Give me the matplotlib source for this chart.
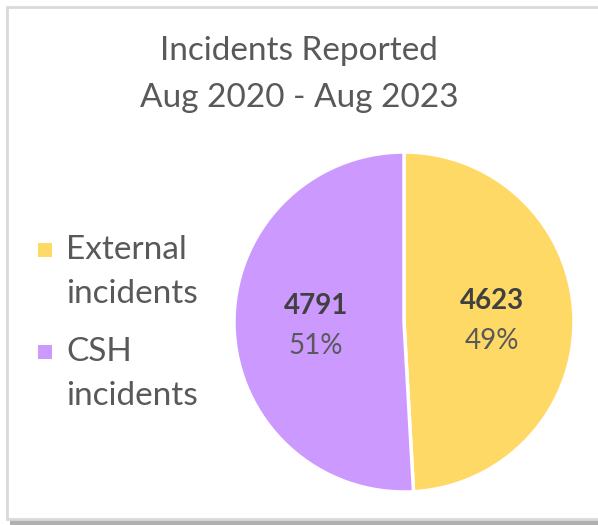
import matplotlib
matplotlib.use("Agg")
import matplotlib.pyplot as plt
from matplotlib.patches import Rectangle
import math

categories = ["External\nincidents", "CSH\nincidents"]
values = [4623, 4791]
colors = ["#FFD966", "#CC99FF"]
title = "Incidents Reported\nAug 2020 - Aug 2023"

W, H = 598, 525
plt.rcParams['font.family'] = ['Lato', 'DejaVu Sans']
txt = "#595959"
fig = plt.figure(figsize=(W / 100, H / 100), dpi=100)

def fx(x): return x / W
def fy(y): return 1 - y / H

# shadow at bottom + light border left/top
fig.patches.append(Rectangle((fx(10), fy(525)), fx(600), fy(519) - fy(525),
                             transform=fig.transFigure, fc="#b0b0b0", ec="none", zorder=0))
fig.patches.append(Rectangle((fx(7), fy(519)), fx(600), fy(7) - fy(519),
                             transform=fig.transFigure, fc="white", ec="#d9d9d9", lw=2, zorder=1))

cx, cy, r = 404, 322, 170
ax = fig.add_axes([fx(cx - r), fy(cy + r), fx(2 * r), fy(cy - r) - fy(cy + r)])
wedges, _ = ax.pie(values, colors=colors, startangle=90, counterclock=False,
                   wedgeprops=dict(edgecolor="white", linewidth=2.5))
ax.set_xlim(-1.0, 1.0)
ax.set_ylim(-1.0, 1.0)
ax.set_aspect("equal")
ax.set_zorder(2)

total = sum(values)
start = 90.0
for v, w in zip(values, wedges):
    ang = start - 360 * v / total / 2
    start -= 360 * v / total
    x = 0.52 * math.cos(math.radians(ang))
    y = 0.52 * math.sin(math.radians(ang))
    ax.text(x, y + 0.11, f"{v}", ha="center", va="center", fontsize=20, fontweight="bold", color="#404040")
    ax.text(x, y - 0.125, f"{v / total * 100:.0f}%", ha="center", va="center", fontsize=20, color=txt)

fig.text(0.5, fy(51), title.split("\n")[0], ha="center", va="center", fontsize=24, color=txt, zorder=3)
fig.text(0.5, fy(98), title.split("\n")[1], ha="center", va="center", fontsize=24, color=txt, zorder=3)

leg_y = [250, 352]
for lab, c, y0 in zip(categories, colors, leg_y):
    fig.patches.append(Rectangle((fx(38), fy(y0 + 7)), fx(14), fy(y0 - 7) - fy(y0 + 7),
                                 transform=fig.transFigure, fc=c, ec="none", zorder=3))
    l1, l2 = lab.split("\n")
    fig.text(fx(66), fy(y0), l1, ha="left", va="center", fontsize=24, color=txt, zorder=3)
    fig.text(fx(66), fy(y0 + 44), l2, ha="left", va="center", fontsize=24, color=txt, zorder=3)

fig.savefig("out.png", dpi=100)
